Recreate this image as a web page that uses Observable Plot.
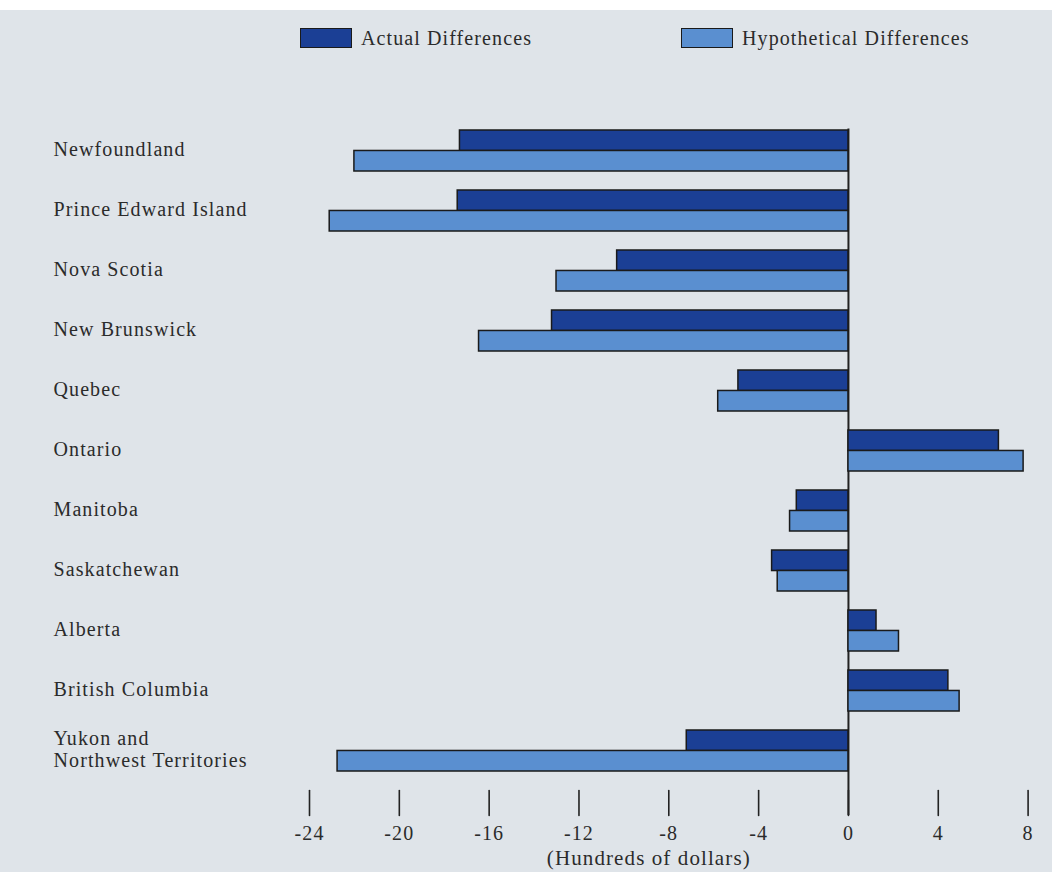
<!DOCTYPE html>
<html><head><meta charset="utf-8">
<script src="https://cdn.jsdelivr.net/npm/d3@7"></script>
<script src="https://cdn.jsdelivr.net/npm/@observablehq/plot@0.6"></script>
<style>
html,body{margin:0;padding:0;background:#fff;}
#wrap{margin-top:10px;width:1052px;height:862px;background:#dfe4e9;position:relative;overflow:hidden;font-family:"Liberation Serif","Times New Roman",serif;color:#2b2b2b;}
#legend{position:relative;height:70px;}
.item{position:absolute;top:18px;display:flex;align-items:center;font-size:20px;letter-spacing:1.1px;line-height:20px;}
.sw{width:52px;height:20px;border:1.5px solid #1a1a1a;box-sizing:border-box;margin-right:9px;}
#chart svg text{letter-spacing:1.1px;}
#chart svg text.tk{letter-spacing:0;}
</style></head><body>
<div id="wrap"><div id="legend"></div><div id="chart"></div></div>
<script>
const provinces = ["Newfoundland","Prince Edward Island","Nova Scotia","New Brunswick","Quebec","Ontario","Manitoba","Saskatchewan","Alberta","British Columbia","Yukon and\nNorthwest Territories"];
const actual = [-17.3, -17.4, -10.3, -13.2, -4.9, 6.7, -2.3, -3.4, 1.25, 4.45, -7.2];
const hypothetical = [-22.0, -23.1, -13.0, -16.45, -5.8, 7.8, -2.6, -3.15, 2.25, 4.95, -22.75];
const xTicks = [-24, -20, -16, -12, -8, -4, 0, 4, 8];
const seriesNames = ["Actual Differences", "Hypothetical Differences"];
const seriesColors = ["#1b3f95", "#5a8fd0"];
const xTitle = "(Hundreds of dollars)";

// legend
const legend = document.getElementById("legend");
const legendLeft = [300, 681];
seriesNames.forEach((name, i) => {
  const it = document.createElement("div");
  it.className = "item";
  it.style.left = legendLeft[i] + "px";
  const sw = document.createElement("span");
  sw.className = "sw";
  sw.style.background = seriesColors[i];
  it.appendChild(sw);
  it.appendChild(document.createTextNode(name));
  legend.appendChild(it);
});

const rows = provinces.map((p, i) => ({province: p, actual: actual[i], hyp: hypothetical[i]}));
const height = 792, marginTop = 48.5, marginBottom = 100.5;
const pad = 0.32;
const step = (height - marginTop - marginBottom) / (provinces.length - pad);
const half = step * (1 - pad) / 2;
const tickShape = {draw(context, l) { context.moveTo(0, 0); context.lineTo(0, -l); }};
const fmt = d => d < 0 ? "-" + Math.abs(d) : String(d);

const plot = Plot.plot({
  width: 1052, height, marginLeft: 309, marginRight: 24.4, marginTop, marginBottom,
  x: {domain: [-24, 8], axis: null},
  y: {domain: provinces, paddingInner: pad, paddingOuter: 0, axis: null},
  style: {background: "transparent", fontFamily: "'Liberation Serif','Times New Roman',serif", fontSize: "20px", color: "#2b2b2b"},
  marks: [
    Plot.ruleX([0], {stroke: "#222", strokeWidth: 2, insetBottom: -43.5}),
    Plot.barX(rows, {y: "province", x: "actual", fill: seriesColors[0], stroke: "#1a1a1a", strokeWidth: 1.5, insetBottom: half}),
    Plot.barX(rows, {y: "province", x: "hyp", fill: seriesColors[1], stroke: "#1a1a1a", strokeWidth: 1.5, insetTop: half}),
    Plot.vector(xTicks, {x: d => d, frameAnchor: "bottom", dy: 43.5, length: 25, anchor: "start", shape: tickShape, stroke: "#222", strokeWidth: 1.6}),
    Plot.text(xTicks, {x: d => d, text: fmt, frameAnchor: "bottom", dy: 61.5, lineAnchor: "middle", fill: "#2b2b2b", className: "tk"}),
    Plot.text([xTitle], {text: d => d, frameAnchor: "bottom", dy: 86.5, dx: -20, lineAnchor: "middle", fill: "#2b2b2b", fontSize: 21}),
    Plot.text(provinces, {y: d => d, text: d => d, frameAnchor: "left", textAnchor: "start", dx: -256, dy: -2.5, lineAnchor: "middle", lineHeight: 1.1, fill: "#2b2b2b"})
  ]
});
document.getElementById("chart").appendChild(plot);
</script>
</body></html>
